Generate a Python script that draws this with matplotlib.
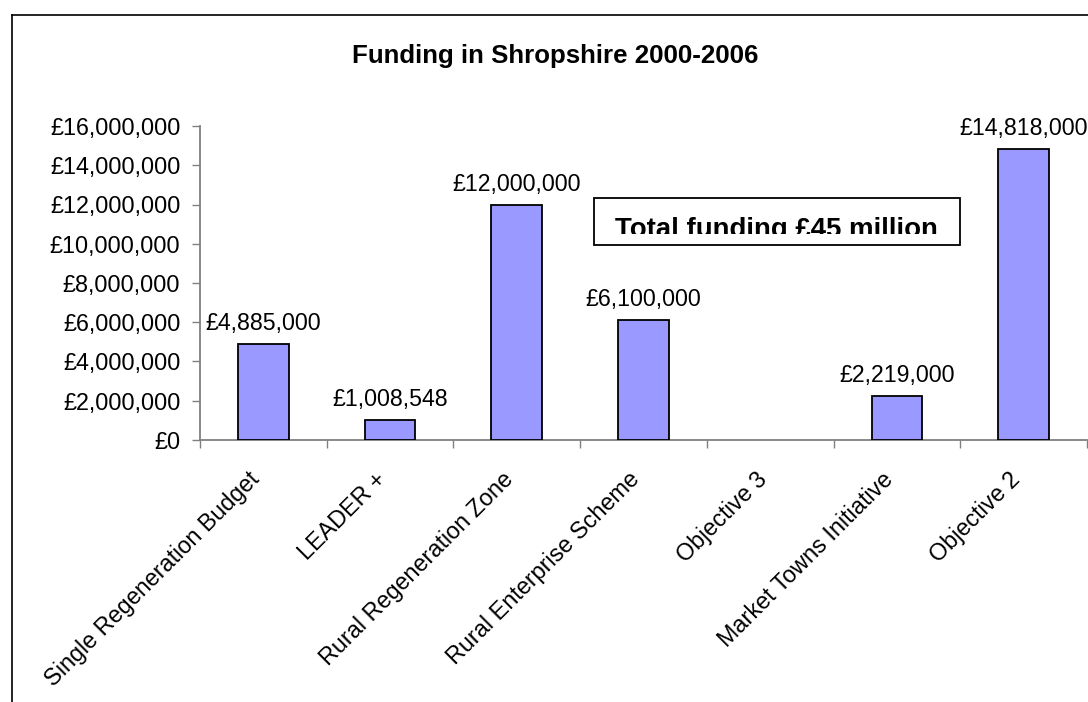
import matplotlib
matplotlib.use("Agg")
import matplotlib.pyplot as plt
from matplotlib.patches import Rectangle
from matplotlib.lines import Line2D
from matplotlib.ticker import FuncFormatter, MultipleLocator
from matplotlib.transforms import ScaledTranslation

categories = ["Single Regeneration Budget", "LEADER +", "Rural Regeneration Zone",
              "Rural Enterprise Scheme", "Objective 3", "Market Towns Initiative", "Objective 2"]
values = [4885000, 1008548, 12000000, 6100000, 0, 2219000, 14818000]
title = "Funding in Shropshire 2000-2006"
note = "Total funding £45 million"

plt.rcParams['font.family'] = ['Liberation Sans', 'DejaVu Sans']

W, H = 1088, 702
fig = plt.figure(figsize=(W / 100, H / 100), dpi=100)

def fx(px):
    return px / W

def fy(py):
    return 1 - py / H

# outer chart frame (left and top only visible)
fig.add_artist(Line2D([fx(11.5), fx(11.5)], [0, fy(15)], color='black', lw=1.2, transform=fig.transFigure))
fig.add_artist(Line2D([fx(11.5), 1], [fy(15), fy(15)], color='black', lw=1.2, transform=fig.transFigure))

ax = fig.add_axes([fx(200), fy(440), fx(1087) - fx(200), fy(126) - fy(440)])
x = list(range(len(categories)))
lws = [1.3 if v > 0 else 0 for v in values]
bars = ax.bar(x, values, width=0.4, color='#9999FF', edgecolor='black', linewidth=lws, zorder=3)

ax.set_xlim(-0.5, len(categories) - 0.5)
ax.set_ylim(0, 16000000)
ax.yaxis.set_major_locator(MultipleLocator(2000000))
ax.yaxis.set_major_formatter(FuncFormatter(lambda v, p: "£{:,.0f}".format(v)))

for s in ['top', 'right']:
    ax.spines[s].set_visible(False)
for s in ['left', 'bottom']:
    ax.spines[s].set_color('#808080')
    ax.spines[s].set_linewidth(1.3)

ax.tick_params(axis='y', direction='out', length=5.8, width=1.0, color='#808080',
               labelsize=16.8, pad=8.4)
ax.set_xticks(x)
ax.set_xticklabels(categories, rotation=45, ha='right', va='center', rotation_mode='anchor', fontsize=16.8)
ax.tick_params(axis='x', which='major', length=0, pad=26)
ax.set_xticks([i - 0.5 for i in range(len(categories) + 1)], minor=True)
ax.tick_params(axis='x', which='minor', direction='out', length=5.8, width=1.0, color='#808080')
shift = ScaledTranslation(-7 / 100, 0, fig.dpi_scale_trans)
for lab in ax.get_xticklabels():
    lab.set_transform(lab.get_transform() + shift)

for xi, v in zip(x, values):
    if v > 0:
        ax.annotate("£{:,.0f}".format(v), (xi, v), xytext=(0, 9), textcoords='offset pixels',
                    ha='center', va='bottom', fontsize=16.7, clip_on=False)

fig.text(fx(555), fy(63), title, ha='center', va='baseline', fontsize=18.6, fontweight='bold')

# text box
box = Rectangle((fx(594), fy(245)), fx(960) - fx(594), fy(198) - fy(245), transform=fig.transFigure,
                fill=False, edgecolor='black', lw=1.3)
fig.add_artist(box)
clip = Rectangle((fx(594), fy(234)), fx(960) - fx(594), fy(198) - fy(234), transform=fig.transFigure,
                 fill=False, visible=False)
fig.add_artist(clip)
t = fig.text(fx(776), fy(237), note, ha='center', va='baseline', fontsize=19.9, fontweight='bold')
t.set_clip_path(clip)

fig.savefig("out.png", dpi=100)
